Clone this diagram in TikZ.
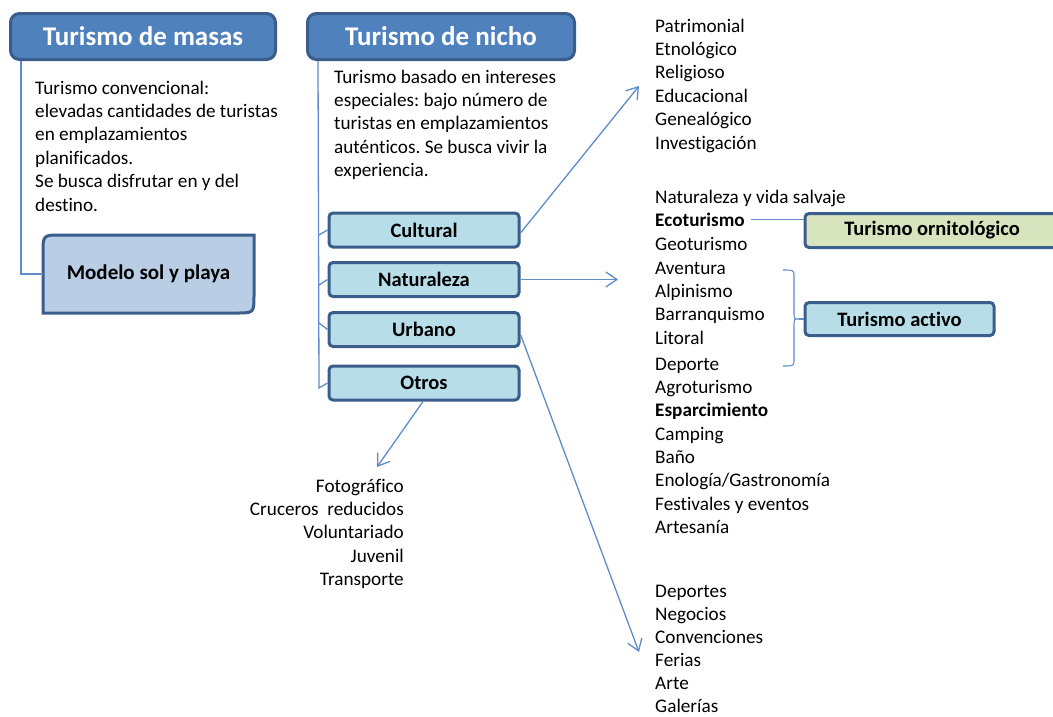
\documentclass[tikz,border=0pt]{standalone}
\usepackage{fontspec}
\setmainfont{Carlito}[Ligatures={NoCommon}]
\usetikzlibrary{arrows.meta}
\definecolor{titlefill}{HTML}{4F81BD}
\definecolor{boxborder}{HTML}{3A5D8C}
\definecolor{linecol}{HTML}{5F8CC8}
\definecolor{subfill}{HTML}{B7DEE8}
\definecolor{modelfill}{HTML}{B9CDE5}
\definecolor{ornifill}{HTML}{D7E4BD}
\frenchspacing
\begin{document}
\begin{tikzpicture}[x=1pt,y=-1pt,
  titlebox/.style={draw=boxborder, line width=3pt, fill=titlefill, rounded corners=9pt,
    text=white, font=\fontsize{27}{32}\selectfont\bfseries, minimum height=46pt, inner sep=0pt},
  subbox/.style={draw=boxborder, line width=3pt, fill=subfill, rounded corners=4pt,
    font=\fontsize{20.5}{24}\selectfont\bfseries, minimum height=34pt, inner sep=0pt},
  item/.style={anchor=base west, inner sep=0pt, font=\fontsize{19.2}{23.4}\selectfont},
  ritem/.style={anchor=base east, inner sep=0pt, font=\fontsize{19.2}{23.4}\selectfont},
  conn/.style={draw=linecol, line width=1.3pt},
  arr/.style={conn, -{Straight Barb[length=11pt,width=15pt,line width=1.3pt]}}
]
\useasboundingbox (0,0) rectangle (1053,716);

% title boxes
\node[titlebox, minimum width=265pt] (masas) at (143,36.5) {Turismo de masas};
\node[titlebox, minimum width=267pt] (nicho) at (441,36.5) {Turismo de nicho};

% descriptions
\foreach \t [count=\i] in {Turismo convencional:, elevadas cantidades de turistas,
  en emplazamientos, planificados., Se busca disfrutar en y del, destino.}
  \node[item] (md\i) at (35,{94+23.4*(\i-1)}) {\t};
\foreach \t [count=\i] in {Turismo basado en intereses, especiales: bajo número de,
  turistas en emplazamientos, auténticos. Se busca vivir la, experiencia.}
  \node[item] (nd\i) at (334,{83+23.4*(\i-1)}) {\t};

% Modelo sol y playa (round diagonal corners)
\draw[draw=boxborder, line width=3pt, fill=modelfill]
  (43,313) -- (43,253) .. controls (43,235) .. (61,235) -- (254,235)
  -- (254,295) .. controls (254,313) .. (236,313) -- cycle;
\node[inner sep=0pt, minimum width=211pt, minimum height=78pt,
  font=\fontsize{21}{25}\selectfont\bfseries] (modelo) at (148.5,274) {Modelo sol y playa};
\draw[conn] ([xshift=12pt]masas.south west) |- (modelo.west);

% niche sub boxes
\node[subbox, minimum width=190pt] (cultural) at (424,230) {Cultural};
\node[subbox, minimum width=190pt] (naturaleza) at (424,279.5) {Naturaleza};
\node[subbox, minimum width=190pt] (urbano) at (424,329.5) {Urbano};
\node[subbox, minimum width=190pt] (otros) at (424,383) {Otros};

\coordinate (nv1) at (319,235);
\coordinate (nv2) at (319,285);
\coordinate (nv3) at (319,323);
\coordinate (nv4) at (319,388);
\draw[conn] ([xshift=12pt]nicho.south west) -- (nv4) -- (otros.west);
\draw[conn] (nv1) -- (cultural.west);
\draw[conn] (nv2) -- (naturaleza.west);
\draw[conn] (nv3) -- (urbano.west);

% arrows
\coordinate (cultend) at (639,86);
\coordinate (natend) at (618,279.5);
\coordinate (urbend) at (639,652);
\coordinate (otrend) at (377,467);
\draw[arr] ([yshift=-3pt]cultural.east) -- (cultend);
\draw[arr] (naturaleza.east) -- (natend);
\draw[arr] ([yshift=-5pt]urbano.east) -- (urbend);
\draw[arr] ([xshift=-1pt]otros.south) -- (otrend);

% right lists
\foreach \t/\y/\n in {Patrimonial/32/r1, Etnológico/55/r2, Religioso/78/r3,
  Educacional/102/r4, Genealógico/125/r5, Investigación/149/r6,
  Naturaleza y vida salvaje/203/r7, Geoturismo/250/r9, Aventura/274/r10,
  Alpinismo/297/r11, Barranquismo/320/r12, Litoral/344/r13, Deporte/370/r14,
  Agroturismo/393/r15, Camping/440/r17, Baño/463/r18,
  Festivales y eventos/510/r20, Artesanía/533/r21,
  Deportes/597/u1, Negocios/620/u2, Convenciones/643/u3, Ferias/666/u4,
  Arte/689/u5, Galerías/712/u6}
  \node[item] (\n) at (655,\y) {\t};
\node[item, font=\fontsize{19.2}{23.4}\selectfont\bfseries] (eco) at (655,226) {Ecoturismo};
\node[item, font=\fontsize{19.2}{23.4}\selectfont\bfseries] (espar) at (655,416) {Esparcimiento};
\node[item] (eno) at (655,486) {Enología/Gastronomía};

% left list
\foreach \t/\y/\n in {Fotográfico/492/o1, Cruceros\ \ reducidos/515/o2,
  Voluntariado/538/o3, Juvenil/562/o4, Transporte/585/o5}
  \node[ritem] (\n) at (404,\y) {\t};

% side boxes
\node[subbox, fill=ornifill, minimum width=254pt] (orni) at (932,230.5) {Turismo ornitológico};
\node[subbox, minimum width=189pt, minimum height=33pt] (activo) at (899.5,319) {Turismo activo};

\draw[conn] ([xshift=6pt]eco.east) -- (eco.east -| orni.west);

% brace
\coordinate (bt) at (783,270);
\coordinate (bb) at (783,366);
\draw[conn, line width=1.1pt] (bt) .. controls (794,270) .. (794,277) -- (794,312)
  .. controls (794,319) .. (799,319) .. controls (794,319) .. (794,326) -- (794,359)
  .. controls (794,366) .. (bb);
\draw[conn, line width=1.1pt] (799,319) -- (activo.west);
\end{tikzpicture}
\end{document}
